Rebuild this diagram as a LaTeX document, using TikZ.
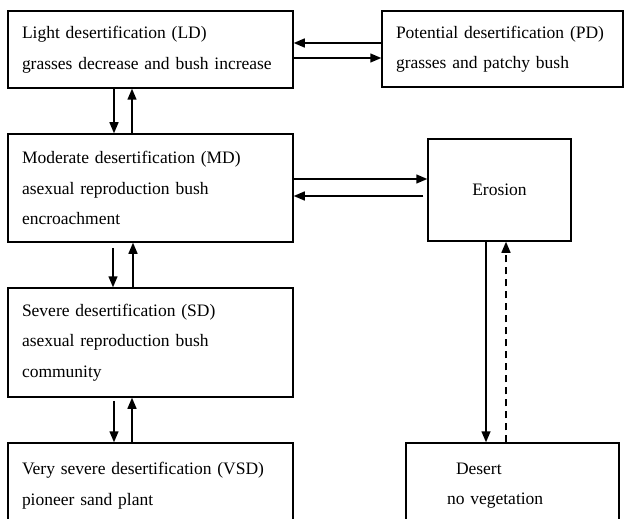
\documentclass[tikz,border=0pt]{standalone}
\usepackage{fontspec}
\setmainfont{Liberation Serif}
\usetikzlibrary{arrows.meta}
\tikzset{
    stagebox/.style={draw, line width=1.5pt, inner xsep=14pt, inner ysep=0pt,
        align=left, font=\fontsize{17.5}{30.5}\selectfont},
    flow/.style={line width=1.5pt, -{Triangle[length=11pt, width=9pt]}},
}

\begin{document}
\begin{tikzpicture}[x=1pt, y=-1pt]
    \useasboundingbox (0, 0) rectangle (625, 519);
    \begin{scope}
        % Stages on the left
        \node[stagebox, text width=257pt, minimum height=77pt] (LD) at (150.5, 49.5)
            {Light desertification (LD)\\grasses decrease and bush increase};
        \node[stagebox, text width=257pt, minimum height=108pt] (MD) at (150.5, 188)
            {Moderate desertification (MD)\\asexual reproduction bush\\encroachment};
        \node[stagebox, text width=257pt, minimum height=109pt] (SD) at (150.5, 342.5)
            {Severe desertification (SD)\\asexual reproduction bush\\community};
        \node[stagebox, text width=257pt, minimum height=85pt] (VSD) at (150.5, 485.5)
            {Very severe desertification (VSD)\\pioneer sand plant};
        % Boxes on the right
        \node[stagebox, text width=213pt, minimum height=76pt] (PD) at (502.5, 49)
            {Potential desertification (PD)\\grasses and patchy bush};
        \node[stagebox, text width=115pt, minimum height=102pt, align=center] (Erosion) at (499.5, 190)
            {Erosion};
        \node[stagebox, inner xsep=41pt, text width=131pt, minimum height=85pt] (Desert) at (512.5, 485.5)
            {\hspace*{9pt}Desert\\no vegetation};
        % Arrows
        \draw[flow] ([yshift=6pt]PD.west) -- ([yshift=6pt]PD.west -| LD.east);
        \draw[flow] ([yshift=-8.5pt]LD.east) -- ([yshift=-8.5pt]LD.east -| PD.west);
        \draw[flow] ([xshift=-36.5pt]LD.south) -- ([xshift=-36.5pt]LD.south |- MD.north);
        \draw[flow] ([xshift=-18.5pt]MD.north) -- ([xshift=-18.5pt]MD.north |- LD.south);
        \draw[flow, shorten <=5pt] ([xshift=-37.5pt]MD.south) -- ([xshift=-37.5pt]MD.south |- SD.north);
        \draw[flow] ([xshift=-17.5pt]SD.north) -- ([xshift=-17.5pt]SD.north |- MD.south);
        \draw[flow, shorten <=3pt] ([xshift=-36.5pt]SD.south) -- ([xshift=-36.5pt]SD.south |- VSD.north);
        \draw[flow] ([xshift=-18.5pt]VSD.north) -- ([xshift=-18.5pt]VSD.north |- SD.south);
        \draw[flow] ([yshift=9pt]MD.east) -- ([yshift=9pt]MD.east -| Erosion.west);
        \draw[flow, shorten <=4pt] ([yshift=-8pt]MD.east -| Erosion.west) -- ([yshift=-8pt]MD.east);
        \draw[flow] ([xshift=-13.5pt]Erosion.south) -- ([xshift=-13.5pt]Erosion.south |- Desert.north);
        \draw[flow, dash pattern=on 7pt off 5pt] ([xshift=6.5pt]Erosion.south |- Desert.north) -- ([xshift=6.5pt]Erosion.south);
    \end{scope}
\end{tikzpicture}
\end{document}
